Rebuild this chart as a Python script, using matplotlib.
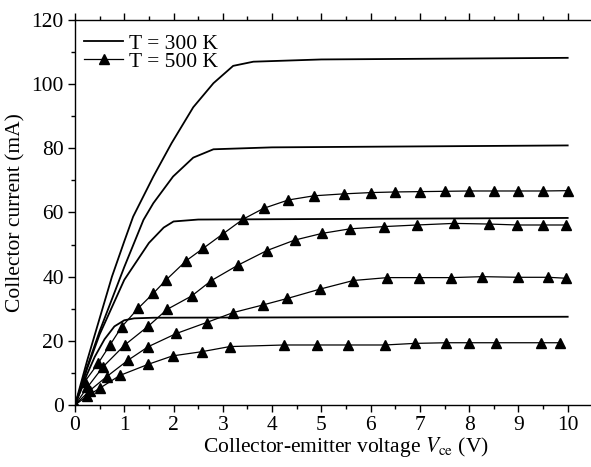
import matplotlib
matplotlib.use("Agg")
import matplotlib.pyplot as plt
from matplotlib.ticker import MultipleLocator

plt.rcParams['font.family'] = ['Liberation Serif', 'DejaVu Serif']
plt.rcParams['mathtext.fontset'] = 'stix'

# T = 300 K (solid lines)
v_a = [0, 0.25, 0.5, 0.75, 1.0, 1.18, 1.59, 1.96, 2.4, 2.81, 3.21, 3.62, 5.0, 10.0]
i_a = [0, 14, 27, 40, 51, 58.7, 71.2, 81.6, 92.8, 100.3, 105.7, 107.0, 107.7, 108.2]
v_b = [0, 0.25, 0.5, 0.75, 1.0, 1.39, 1.59, 1.99, 2.4, 2.81, 4.0, 10.0]
i_b = [0, 12, 23, 33, 43, 57.7, 62.9, 71.2, 77.1, 79.7, 80.3, 80.9]
v_c = [0, 0.25, 0.5, 1.0, 1.5, 1.8, 2.0, 2.5, 10.0]
i_c = [0, 11.5, 22, 39, 50.5, 55.3, 57.2, 57.8, 58.3]
v_d = [0, 0.2, 0.4, 0.6, 0.8, 1.0, 1.2, 1.6, 10.0]
i_d = [0, 8, 15, 20.5, 24.5, 26.4, 27.0, 27.2, 27.5]

# T = 500 K (triangles)
v_e = [0, 0.2, 0.47, 0.71, 0.95, 1.28, 1.59, 1.85, 2.26, 2.6, 3.0, 3.41, 3.83,
       4.33, 4.85, 5.45, 6.0, 6.5, 7.0, 7.5, 8.0, 8.5, 9.0, 9.5, 10.0]
i_e = [0, 7.3, 13.0, 18.7, 24.4, 30.1, 34.8, 39.0, 45.0, 48.8, 53.3, 57.9, 61.3,
       63.9, 65.2, 65.8, 66.2, 66.4, 66.5, 66.6, 66.7, 66.7, 66.7, 66.7, 66.8]
v_f = [0, 0.25, 0.57, 1.01, 1.49, 1.87, 2.37, 2.77, 3.31, 3.89, 4.46, 5.02, 5.58,
       6.27, 6.94, 7.69, 8.4, 8.98, 9.49, 9.96]
i_f = [0, 5.5, 11.9, 18.7, 24.6, 29.8, 34.0, 38.8, 43.6, 48.1, 51.4, 53.5, 54.9,
       55.6, 56.1, 56.6, 56.4, 56.1, 56.1, 56.1]
v_g = [0, 0.3, 0.64, 1.08, 1.49, 2.06, 2.67, 3.21, 3.82, 4.31, 4.97, 5.65, 6.34,
       6.98, 7.64, 8.27, 9.0, 9.61, 9.97]
i_g = [0, 4.5, 8.8, 14.0, 18.2, 22.3, 25.7, 28.8, 31.2, 33.2, 36.1, 38.8, 39.7,
       39.7, 39.7, 40.0, 39.8, 39.8, 39.5]
v_h = [0, 0.25, 0.51, 0.91, 1.49, 1.98, 2.57, 3.14, 4.24, 4.91, 5.54, 6.29, 6.9,
       7.54, 8.0, 8.55, 9.45, 9.84]
i_h = [0, 2.8, 5.3, 9.2, 12.7, 15.3, 16.6, 18.2, 18.7, 18.7, 18.7, 18.7, 19.2,
       19.4, 19.4, 19.4, 19.4, 19.4]

fs = 15.5

fig = plt.figure(figsize=(5.91, 4.67), dpi=100)
# axes run past the right edge of the figure (the original is cropped there)
ax = fig.add_axes([0.1269, 0.1328, 0.917, 0.8244])

solid = [(v_a, i_a), (v_b, i_b), (v_c, i_c), (v_d, i_d)]
tri = [(v_e, i_e), (v_f, i_f), (v_g, i_g), (v_h, i_h)]

for k, (v, i) in enumerate(solid):
    ax.plot(v, i, '-k', lw=1.3, label='T = 300 K' if k == 0 else None)
for k, (v, i) in enumerate(tri):
    ax.plot(v, i, '-k^', lw=0.9, ms=7.5, label='T = 500 K' if k == 0 else None)

ax.set_xlim(0, 11)
ax.set_ylim(0, 120)
ax.xaxis.set_major_locator(MultipleLocator(1))
ax.xaxis.set_minor_locator(MultipleLocator(0.5))
ax.yaxis.set_major_locator(MultipleLocator(20))
ax.yaxis.set_minor_locator(MultipleLocator(10))
ax.spines['right'].set_visible(False)
for s in ['left', 'bottom', 'top']:
    ax.spines[s].set_linewidth(1.0)
ax.tick_params(which='major', direction='out', length=5, width=1, labelsize=fs, pad=3)
ax.tick_params(which='minor', direction='out', length=3, width=1)
ax.tick_params(axis='x', which='both', top=True, labeltop=False)
ax.set_xticks(range(0, 11))

ax.set_xlabel(r'Collector-emitter voltage $\mathit{V}_{\rm ce}$ (V)', fontsize=fs, labelpad=0)
ax.set_ylabel('Collector current (mA)', fontsize=fs, labelpad=4)

ax.legend(loc='upper left', bbox_to_anchor=(0.0, 0.987), frameon=False, fontsize=fs,
          handlelength=1.85, handletextpad=0.25, labelspacing=-0.09, borderaxespad=0.0)

fig.savefig('out.png', dpi=100)
